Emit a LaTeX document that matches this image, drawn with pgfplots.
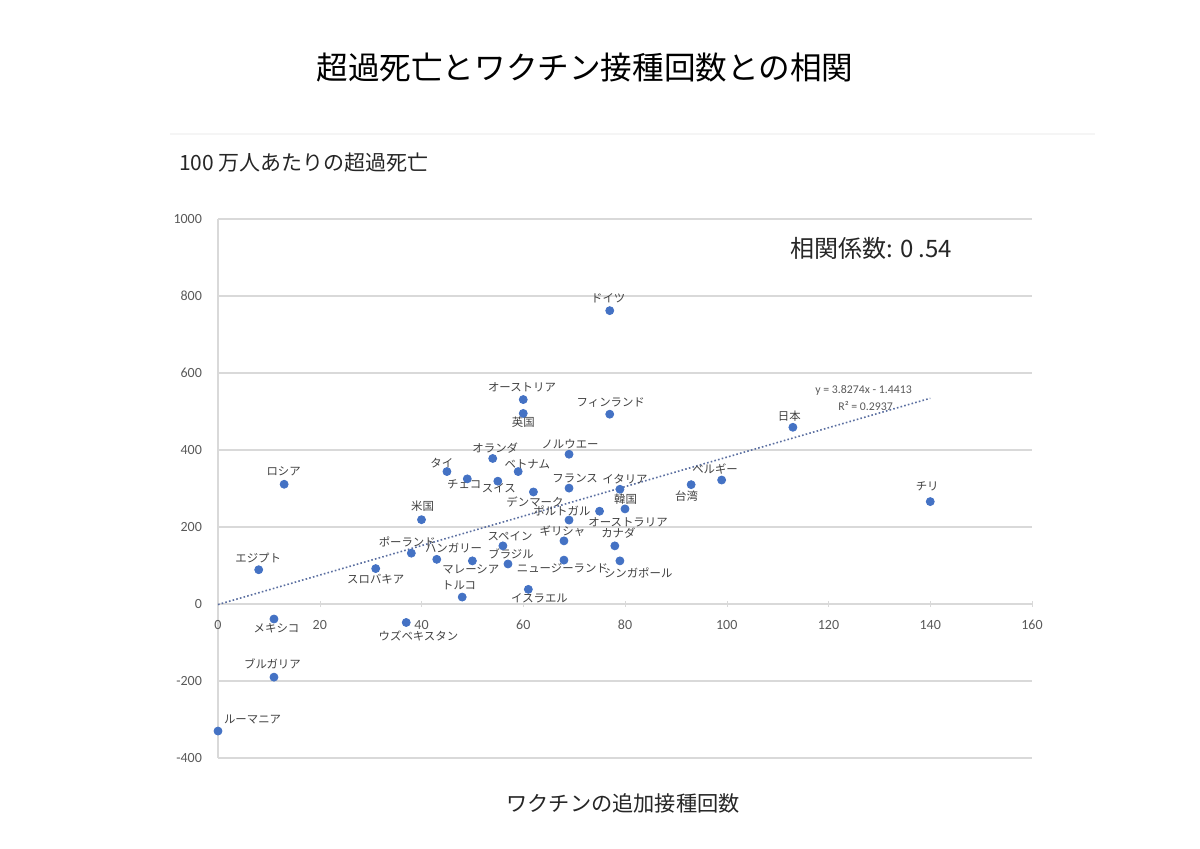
\documentclass[border=0pt]{standalone}
\usepackage{fontspec}
\setmainfont{Noto Sans CJK JP}
\newfontfamily\carlito{Carlito}
\usepackage{pgfplots}
\pgfplotsset{compat=1.18}
\definecolor{dot}{HTML}{4472C4}
\definecolor{gridc}{HTML}{D9D9D9}
\definecolor{tickc}{HTML}{595959}
\definecolor{labc}{HTML}{404040}
\definecolor{trend}{HTML}{5A6EA0}
\begin{document}
\begin{tikzpicture}
\path[use as bounding box] (0,0) rectangle (600pt,-424.5pt);
% faint separator line
\draw[color=black!4, line width=0.6pt] (85pt,-67pt) -- (547.5pt,-67pt);
% title
\node[font=\fontsize{15.8pt}{18pt}\selectfont, text=black] at (292.5pt,-34pt) {超過死亡とワクチン接種回数との相関};
% axis titles
\node[font=\fontsize{10.5pt}{12pt}\selectfont, text=black!85, anchor=west] at (86pt,-81.5pt) {100 万人あたりの超過死亡};
\node[font=\fontsize{10.6pt}{12pt}\selectfont, text=black!85] at (311.5pt,-401.5pt) {ワクチンの追加接種回数};
% correlation
\node[font=\fontsize{12pt}{14pt}\selectfont, text=black!85, anchor=west, inner sep=0pt] at (395pt,-124pt) {相関係数: 0 .54};
\begin{axis}[
  at={(109pt,-379pt)}, anchor=south west,
  scale only axis, width=407pt, height=269.5pt,
  xmin=0, xmax=160, ymin=-400, ymax=1000,
  xtick={0,20,...,160}, ytick={-400,-200,...,1000},
  axis lines=middle,
  axis line style={gridc, -, line width=0.6pt},
  hide obscured x ticks=false, hide obscured y ticks=false,
  ymajorgrids, grid style={gridc, line width=0.6pt},
  major tick length=3pt, tick style={gridc},
  ytick style={draw=none},
  /pgf/number format/assume math mode=true,
  /pgf/number format/1000 sep={},
  ticklabel style={font=\carlito\fontsize{7pt}{8pt}\selectfont, text=tickc},
  yticklabel style={xshift=-3pt},
  xticklabel style={yshift=-3pt},
  clip=false,
]
\addplot[trend, line width=0.8pt, dash pattern=on 0.8pt off 1.1pt] coordinates {(0,-1.4413) (140,534.39)};
\addplot[only marks, mark=*, mark size=2pt, dot, mark options={draw=dot, fill=dot}] table[row sep=\\] {
x y\\
13 311\\
8 89\\
11 -39\\
11 -190\\
0 -330\\
37 -48\\
31 92\\
38 132\\
40 219\\
43 116\\
45 344\\
48 18\\
60 531\\
60 495\\
77 493\\
54 378\\
69 389\\
59 344\\
49 325\\
55 319\\
62 291\\
69 301\\
79 298\\
80 247\\
75 241\\
69 218\\
68 164\\
56 151\\
78 151\\
50 112\\
57 104\\
68 114\\
79 112\\
61 38\\
77 762\\
113 459\\
99 322\\
93 310\\
140 266\\
};
\tikzset{lab/.style={font=\fontsize{5.7pt}{6pt}\selectfont, text=labc, inner sep=0pt}}
\node[lab] at (axis cs:76.7,795) {ドイツ};
\node[lab] at (axis cs:59.75,563) {オーストリア};
\node[lab] at (axis cs:60.0,471) {英国};
\node[lab] at (axis cs:77.2,524) {フィンランド};
\node[lab] at (axis cs:54.5,406) {オランダ};
\node[lab] at (axis cs:69.2,415) {ノルウエー};
\node[lab] at (axis cs:44.0,367) {タイ};
\node[lab] at (axis cs:60.8,363) {ベトナム};
\node[lab] at (axis cs:48.4,311) {チェコ};
\node[lab] at (axis cs:55.2,300) {スイス};
\node[lab] at (axis cs:70.2,326) {フランス};
\node[lab] at (axis cs:80.0,325) {イタリア};
\node[lab] at (axis cs:62.3,264) {デンマーク};
\node[lab] at (axis cs:80.1,272) {韓国};
\node[lab] at (axis cs:92.1,279) {台湾};
\node[lab] at (axis cs:97.7,350) {ベルギー};
\node[lab] at (axis cs:67.6,242) {ポルトガル};
\node[lab] at (axis cs:80.6,212) {オーストラリア};
\node[lab] at (axis cs:67.7,189) {ギリシャ};
\node[lab] at (axis cs:57.4,175) {スペイン};
\node[lab] at (axis cs:78.7,184) {カナダ};
\node[lab] at (axis cs:57.6,129) {ブラジル};
\node[lab] at (axis cs:49.7,90) {マレーシア};
\node[lab] at (axis cs:67.7,94) {ニュージーランド};
\node[lab] at (axis cs:82.6,81) {シンガポール};
\node[lab] at (axis cs:63.2,16) {イスラエル};
\node[lab] at (axis cs:47.4,48) {トルコ};
\node[lab] at (axis cs:112.3,488) {日本};
\node[lab] at (axis cs:139.4,305) {チリ};
\node[lab] at (axis cs:12.9,344) {ロシア};
\node[lab] at (axis cs:40.2,253) {米国};
\node[lab] at (axis cs:7.9,120) {エジプト};
\node[lab] at (axis cs:37.2,162) {ポーランド};
\node[lab] at (axis cs:46.3,145) {ハンガリー};
\node[lab] at (axis cs:31.0,66) {スロバキア};
\node[lab] at (axis cs:11.5,-63) {メキシコ};
\node[lab] at (axis cs:39.4,-83) {ウズベキスタン};
\node[lab] at (axis cs:10.7,-156) {ブルガリア};
\node[lab] at (axis cs:6.8,-301) {ルーマニア};
\node[font=\carlito\fontsize{5.9pt}{6pt}\selectfont, text=tickc, inner sep=0pt] at (axis cs:126.9,555) {y = 3.8274x - 1.4413};
\node[font=\carlito\fontsize{5.9pt}{6pt}\selectfont, text=tickc, inner sep=0pt] at (axis cs:127.3,514) {R² = 0.2937};
\end{axis}
\end{tikzpicture}
\end{document}
